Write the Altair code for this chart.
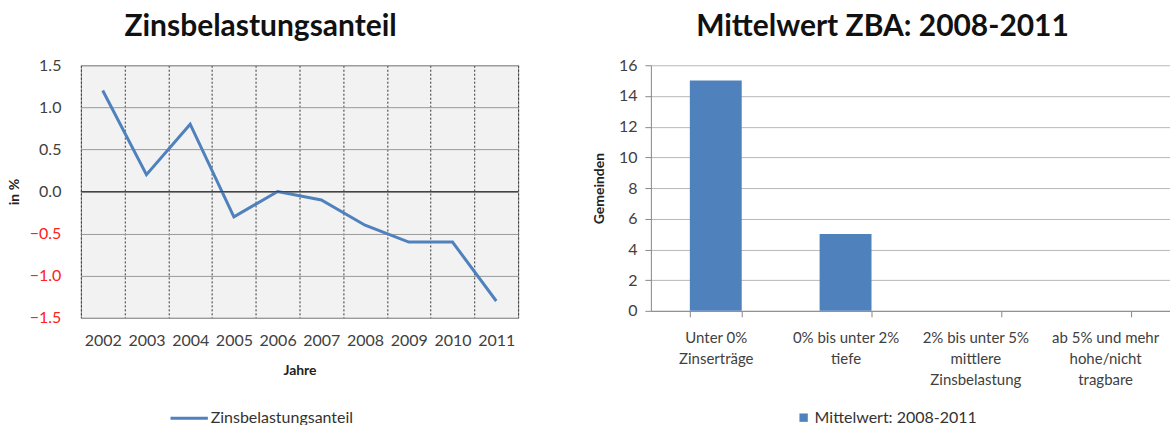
import altair as alt
import pandas as pd

years = ["2002", "2003", "2004", "2005", "2006", "2007", "2008", "2009", "2010", "2011"]
zba = [1.2, 0.2, 0.8, -0.3, 0.0, -0.1, -0.4, -0.6, -0.6, -1.3]

categories = [
    "Unter 0%|Zinserträge",
    "0% bis unter 2%|tiefe",
    "2% bis unter 5%|mittlere|Zinsbelastung",
    "ab 5% und mehr|hohe/nicht|tragbare",
]
gemeinden = [15, 5, 0, 0]

FONT = "Lato"
BLUE = "#4f81bd"

df_line = pd.DataFrame({"Jahr": years, "Wert": zba, "Serie": "Zinsbelastungsanteil"})
df_bar = pd.DataFrame({"Kategorie": categories, "Anzahl": gemeinden, "Serie": "Mittelwert: 2008-2011"})

line = alt.Chart(df_line).mark_line(strokeWidth=3, color=BLUE).encode(
    x=alt.X(
        "Jahr:O",
        sort=years,
        bandPosition=0.5,
        scale=alt.Scale(type="band", paddingInner=0, paddingOuter=0),
        axis=alt.Axis(
            title="Jahre", tickBand="extent", grid=True, gridColor="#333333",
            gridDash=[2, 2], gridWidth=1, ticks=False, domain=False,
            labelAngle=0, labelFontSize=16, labelColor="#404040", labelPadding=15,
            titleFontSize=14, titleFontWeight="bold", titleColor="#222222", titlePadding=15,
            labelFont=FONT, titleFont=FONT,
        ),
    ),
    y=alt.Y(
        "Wert:Q",
        scale=alt.Scale(domain=[-1.5, 1.5], nice=False),
        axis=alt.Axis(
            title="in %", values=[-1.5, -1.0, -0.5, 0.0, 0.5, 1.0, 1.5], format=".1f",
            grid=True, gridColor="#9a9a9a", gridWidth=1, ticks=False, domain=False,
            labelColor=alt.condition("datum.value < 0", alt.value("#ff2020"), alt.value("#404040")),
            labelFontSize=16, labelPadding=20, titleFontSize=14, titleFontWeight="bold",
            titleColor="#222222", titlePadding=8, labelFont=FONT, titleFont=FONT,
        ),
    ),
    stroke=alt.Stroke(
        "Serie:N", scale=alt.Scale(range=[BLUE]),
        legend=alt.Legend(
            title=None, orient="none", legendX=88, legendY=333, symbolType="stroke",
            symbolSize=1400, symbolStrokeWidth=3, labelFontSize=16, labelFont=FONT,
            labelColor="#333333", labelOffset=1, labelLimit=400,
        ),
    ),
)

zero = alt.Chart(pd.DataFrame({"z": [0.0]})).mark_rule(color="#444444", strokeWidth=1.2).encode(y="z:Q")

left = alt.layer(line, zero).properties(
    width=438, height=253,
    title=alt.TitleParams("Zinsbelastungsanteil", fontSize=30, font=FONT, fontWeight="bold",
                          dx=-39, offset=15, color="#111111"),
    view=alt.ViewBackground(fill="#f2f2f2", stroke="#8a8a8a"),
)

bars = alt.Chart(df_bar).mark_bar(color=BLUE).encode(
    x=alt.X(
        "Kategorie:N", sort=categories,
        scale=alt.Scale(paddingInner=0.6, paddingOuter=0.3),
        axis=alt.Axis(
            title=None, tickBand="extent", labelExpr="split(datum.label, '|')", labelAngle=0,
            labelFontSize=15, labelColor="#404040", labelFont=FONT, labelPadding=14,
            labelLineHeight=21, domainColor="#888888", tickColor="#888888", tickSize=6,
            labelBaseline="top",
        ),
    ),
    y=alt.Y(
        "Anzahl:Q", scale=alt.Scale(domain=[0, 16], nice=False),
        axis=alt.Axis(
            title="Gemeinden", values=list(range(0, 17, 2)), grid=True, gridColor="#b8b8b8",
            domainColor="#888888", tickColor="#888888", tickSize=6,
            labelFontSize=16, labelColor="#404040", labelFont=FONT, labelPadding=8,
            titleFontSize=14, titleFontWeight="bold", titleColor="#222222", titleFont=FONT,
            titlePadding=12,
        ),
    ),
    fill=alt.Fill(
        "Serie:N", scale=alt.Scale(range=[BLUE]),
        legend=alt.Legend(
            title=None, orient="none", legendX=145, legendY=345, symbolType="square",
            symbolSize=70, labelFontSize=16, labelFont=FONT, labelColor="#333333",
            labelOffset=3, labelLimit=400,
        ),
    ),
)

right = bars.properties(
    width=520, height=246,
    title=alt.TitleParams("Mittelwert ZBA: 2008-2011", fontSize=30, font=FONT, fontWeight="bold",
                          dx=-28, offset=15, color="#111111"),
    view=alt.ViewBackground(stroke=None),
)

chart = alt.hconcat(left, right, spacing=72).resolve_scale(fill="independent", stroke="independent").properties(
    padding={"left": 6, "top": 11, "right": 0, "bottom": 0},
    background="white",
).configure_axis(labelFont=FONT)

chart.save("out.html", embed_options={"renderer": "svg", "actions": False})
